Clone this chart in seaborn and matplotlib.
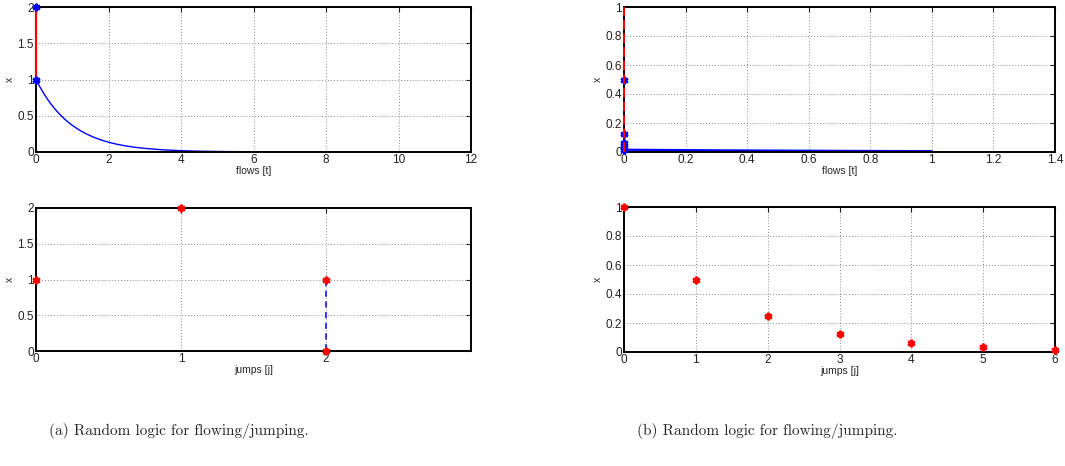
import matplotlib
matplotlib.use("Agg")
import matplotlib.pyplot as plt
import seaborn as sns

# ---- (a) flows: continuous decay after the jumps at t = 0 ----
flow_a_t = [0, 0.1, 0.2, 0.3, 0.4, 0.5, 0.6, 0.7, 0.8, 0.9, 1.0, 1.2, 1.4, 1.6, 1.8, 2.0,
            2.25, 2.5, 2.75, 3.0, 3.5, 4.0, 4.5, 5, 6, 7, 8, 9, 10]
flow_a_x = [1.0, 0.905, 0.819, 0.741, 0.670, 0.607, 0.549, 0.497, 0.449, 0.407, 0.368,
            0.301, 0.247, 0.202, 0.165, 0.135, 0.105, 0.082, 0.064, 0.050, 0.030, 0.018,
            0.011, 0.007, 0.0025, 0.0009, 0.0003, 0.0001, 0.00005]
jump_a_t = [0, 0]
jump_a_x = [1, 2]
# ---- (a) jumps ----
pts_a_j = [0, 1, 2, 2]
pts_a_x = [1, 2, 1, 0]
seg_a_j = [2, 2]
seg_a_x = [1, 0]

# ---- (b) flows ----
flow_b_t = [0, 0.2, 0.4, 0.6, 0.8, 1.0]
flow_b_x = [0.0156, 0.0128, 0.0105, 0.0086, 0.0070, 0.0057]
jump_b_t = [0, 0]
jump_b_x = [0, 1]
mark_b_t = [0, 0, 0, 0, 0]
mark_b_x = [0.5, 0.125, 0.0625, 0.03125, 0.015625]
# ---- (b) jumps ----
pts_b_j = [0, 1, 2, 3, 4, 5, 6]
pts_b_x = [1, 0.5, 0.25, 0.125, 0.0625, 0.03125, 0.015625]

captions = ["(a) Random logic for flowing/jumping.", "(b) Random logic for flowing/jumping."]

sns.set_style("white")
plt.rcParams["font.family"] = ["Liberation Sans", "DejaVu Sans"]

W, H = 1065, 466
fig = plt.figure(figsize=(W / 100, H / 100), dpi=100)


def make_axes(x0, x1, y0, y1):
    return fig.add_axes([x0 / W, (H - y1) / H, (x1 - x0) / W, (y1 - y0) / H])


def style(ax, xlim, ylim, xticks, xlabels, yticks, ylabels, xlabel):
    ax.set_xlim(*xlim)
    ax.set_ylim(*ylim)
    ax.set_xticks(xticks)
    ax.set_xticklabels(xlabels)
    ax.set_yticks(yticks)
    ax.set_yticklabels(ylabels)
    ax.tick_params(direction="in", length=3.5, width=0.8, top=True, right=True,
                   labelsize=8.5, pad=1.5, colors="#222222")
    ax.grid(True, linestyle=(0, (1, 2.5)), color="#666666", linewidth=0.6)
    for s in ax.spines.values():
        s.set_color("black")
        s.set_linewidth(1.4)
        s.set_visible(True)
    ax.set_xlabel(xlabel, fontsize=7.5, labelpad=0)
    ax.set_ylabel("x", fontsize=7.5, labelpad=2)


def markers(ax, x, y, color):
    sns.lineplot(x=x, y=y, ax=ax, estimator=None, sort=False, color=color,
                 linestyle="none", marker=(6, 2, 0), markersize=5.5,
                 markeredgewidth=1.8, markeredgecolor=color, clip_on=False, zorder=5)


blue = (0, 0, 1)
red = (1, 0, 0)

# (a) flows
ax = make_axes(36, 471, 7, 152)
sns.lineplot(x=flow_a_t, y=flow_a_x, ax=ax, estimator=None, sort=False, color=blue, linewidth=1.0)
sns.lineplot(x=jump_a_t, y=jump_a_x, ax=ax, estimator=None, sort=False, color=red,
             linewidth=1.6, clip_on=False, zorder=4)
markers(ax, jump_a_t, jump_a_x, blue)
style(ax, (0, 12), (0, 2), range(0, 13, 2), [str(v) for v in range(0, 13, 2)],
      [0, 0.5, 1, 1.5, 2], ["0", "0.5", "1", "1.5", "2"], "flows [t]")

# (a) jumps
ax = make_axes(36, 471, 208, 351)
sns.lineplot(x=seg_a_j, y=seg_a_x, ax=ax, estimator=None, sort=False, color=blue,
             linewidth=1.1, linestyle=(0, (4, 3)))
markers(ax, pts_a_j, pts_a_x, red)
style(ax, (0, 3), (0, 2), [0, 1, 2], ["0", "1", "2"],
      [0, 0.5, 1, 1.5, 2], ["0", "0.5", "1", "1.5", "2"], "jumps [j]")

# (b) flows
ax = make_axes(624, 1055, 7, 152)
sns.lineplot(x=flow_b_t, y=flow_b_x, ax=ax, estimator=None, sort=False, color=blue, linewidth=1.6)
sns.lineplot(x=jump_b_t, y=jump_b_x, ax=ax, estimator=None, sort=False, color=red,
             linewidth=1.4, linestyle=(0, (5, 2)), clip_on=False, zorder=6)
markers(ax, mark_b_t, mark_b_x, blue)
bt = [0, 0.2, 0.4, 0.6, 0.8, 1.0, 1.2, 1.4]
style(ax, (0, 1.4), (0, 1), bt, ["0", "0.2", "0.4", "0.6", "0.8", "1", "1.2", "1.4"],
      [0, 0.2, 0.4, 0.6, 0.8, 1], ["0", "0.2", "0.4", "0.6", "0.8", "1"], "flows [t]")

# (b) jumps
ax = make_axes(624, 1055, 207, 352)
markers(ax, pts_b_j, pts_b_x, red)
style(ax, (0, 6), (0, 1), range(7), [str(v) for v in range(7)],
      [0, 0.2, 0.4, 0.6, 0.8, 1], ["0", "0.2", "0.4", "0.6", "0.8", "1"], "jumps [j]")

# sub-figure captions
for cx, text in zip([179, 767], captions):
    fig.text(cx / W, 1 - 431 / H, text, ha="center", va="center",
             fontsize=11, family=["cmr10", "DejaVu Serif"])

fig.savefig("out.png", dpi=100)
